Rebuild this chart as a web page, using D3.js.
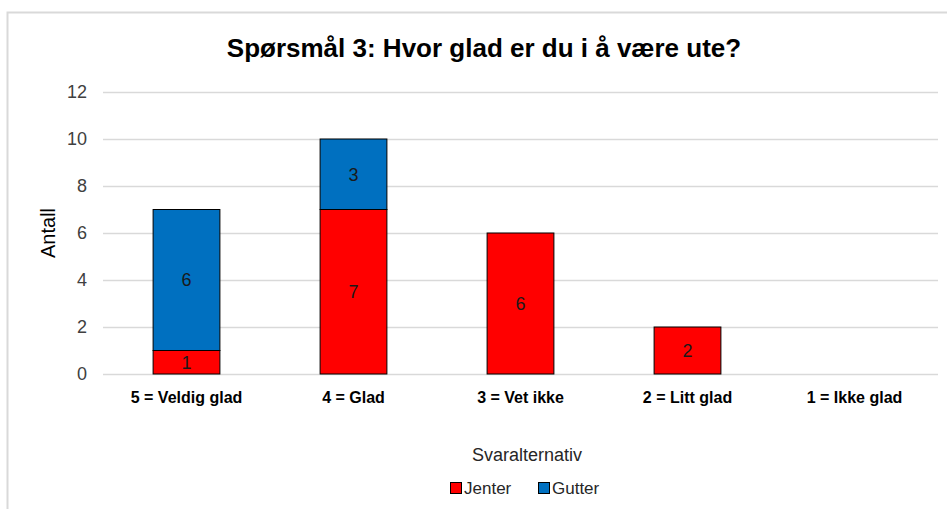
<!DOCTYPE html>
<html>
<head>
<meta charset="utf-8">
<script src="https://cdn.jsdelivr.net/npm/d3@7"></script>
<style>
  body { margin: 0; background: #fff; }
  text { font-family: "Liberation Sans", Arial, sans-serif; }
</style>
</head>
<body>
<script>
// data
var categories = ["5 = Veldig glad", "4 = Glad", "3 = Vet ikke", "2 = Litt glad", "1 = Ikke glad"];
var jenter = [1, 7, 6, 2, 0];
var gutter = [6, 3, 0, 0, 0];
var seriesNames = ["Jenter", "Gutter"];
var seriesColors = ["#ff0000", "#0070c0"];
var yTicks = [0, 2, 4, 6, 8, 10, 12];

var W = 947, H = 509;
var margin = {top: 92, right: 9, bottom: 135, left: 103},
    width = W - margin.left - margin.right,
    height = H - margin.top - margin.bottom;

var svg = d3.select("body").append("svg")
    .attr("width", W)
    .attr("height", H);

// outer chart frame
svg.append("rect")
    .attr("x", 7.5).attr("y", 12.5)
    .attr("width", W).attr("height", H)
    .style("fill", "none")
    .style("stroke", "#d9d9d9")
    .style("stroke-width", 2);

var g = svg.append("g")
    .attr("transform", "translate(" + margin.left + "," + margin.top + ")");

var x = d3.scaleBand().domain(categories).range([0, width]).paddingInner(0.6).paddingOuter(0.3);
var y = d3.scaleLinear().domain([0, 12]).range([height, 0]);

// gridlines
g.selectAll(".grid")
    .data(yTicks)
    .enter().append("line")
    .attr("x1", 0).attr("x2", width)
    .attr("y1", function(d) { return Math.round(y(d)) + 0.5; })
    .attr("y2", function(d) { return Math.round(y(d)) + 0.5; })
    .style("stroke", "#d9d9d9")
    .style("stroke-width", 1.3);

// y axis labels
var yAxis = g.append("g")
    .call(d3.axisLeft(y).tickValues(yTicks).tickSize(0).tickPadding(16));
yAxis.select(".domain").remove();
yAxis.selectAll("text")
    .style("font-size", "18px")
    .style("fill", "#404040")
    .style("font-family", "'Liberation Sans', Arial, sans-serif");

// x axis labels
var xAxis = g.append("g")
    .attr("transform", "translate(0," + height + ")")
    .call(d3.axisBottom(x).tickSize(0).tickPadding(18));
xAxis.select(".domain").remove();
xAxis.selectAll("text")
    .style("font-size", "16px")
    .style("font-weight", 700)
    .style("fill", "#000")
    .style("font-family", "'Liberation Sans', Arial, sans-serif");

// stack the series
var rows = categories.map(function(c, i) {
    return {cat: c, Jenter: jenter[i], Gutter: gutter[i]};
});
var stacked = d3.stack().keys(seriesNames)(rows);

stacked.forEach(function(layer, li) {
    var bars = g.append("g");
    bars.selectAll("rect")
        .data(layer.filter(function(d) { return d[1] - d[0] > 0; }))
        .enter().append("rect")
        .attr("x", function(d) { return x(d.data.cat); })
        .attr("width", x.bandwidth())
        .attr("y", function(d) { return y(d[1]); })
        .attr("height", function(d) { return y(d[0]) - y(d[1]); })
        .style("fill", seriesColors[li])
        .style("stroke", "#000")
        .style("stroke-width", 1);

    bars.selectAll("text")
        .data(layer.filter(function(d) { return d[1] - d[0] > 0; }))
        .enter().append("text")
        .attr("x", function(d) { return x(d.data.cat) + x.bandwidth() / 2; })
        .attr("y", function(d) { return (y(d[0]) + y(d[1])) / 2; })
        .attr("dy", "0.35em")
        .attr("text-anchor", "middle")
        .style("font-size", "18px")
        .style("fill", "#1a1a1a")
        .text(function(d) { return d[1] - d[0]; });
});

// title
svg.append("text")
    .attr("x", 484).attr("y", 57)
    .attr("text-anchor", "middle")
    .style("font-size", "26px")
    .style("font-weight", 700)
    .style("fill", "#000")
    .text("Spørsmål 3: Hvor glad er du i å være ute?");

// axis titles
svg.append("text")
    .attr("transform", "translate(55," + (margin.top + height / 2) + ") rotate(-90)")
    .attr("text-anchor", "middle")
    .style("font-size", "20px")
    .style("fill", "#000")
    .text("Antall");

svg.append("text")
    .attr("x", 527).attr("y", 461)
    .attr("text-anchor", "middle")
    .style("font-size", "18px")
    .style("fill", "#262626")
    .text("Svaralternativ");

// legend
var legendX = [450, 538];
var legend = svg.append("g");
seriesNames.forEach(function(name, i) {
    legend.append("rect")
        .attr("x", legendX[i] + 0.5).attr("y", 482.5)
        .attr("width", 11).attr("height", 11)
        .style("fill", seriesColors[i])
        .style("stroke", "#000")
        .style("stroke-width", 1);
    legend.append("text")
        .attr("x", legendX[i] + 14).attr("y", 494)
        .style("font-size", "17px")
        .style("fill", "#262626")
        .text(name);
});
</script>
</body>
</html>
